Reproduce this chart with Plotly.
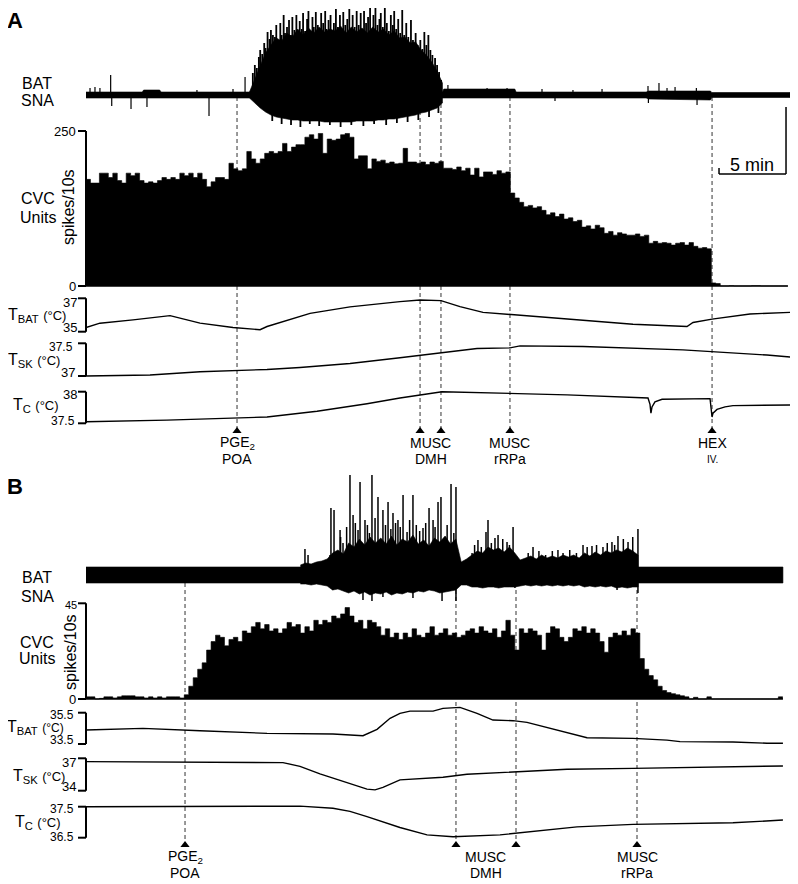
import numpy as np
import plotly.graph_objects as go

W, H = 798, 884            # reference picture size
OFF = 8                    # the html page puts the figure 8 px in from the top-left
FW, FH = W - OFF, H - OFF  # figure size actually drawn
FONT = 'Liberation Sans, Arial, sans-serif'
PX_PER_MIN = 13.4          # the 5 min scale bar is 67 px long
X0, X1 = 86, 790           # pixel span of the time axis
T_MAX = (X1 - X0) / PX_PER_MIN
BIN = 1 / 3                # histogram drawn in 20 s steps (values in spikes/10s)

# ---------------------------------------------------------------- panel A data
A_EVENTS = [11.27, 24.93, 26.49, 31.64, 46.72]
A_EVENT_TEXT = [(11.27, 'PGE<sub>2</sub>', 'POA'), (25.71, 'MUSC', 'DMH'),
                (31.64, 'MUSC', 'rRPa'), (46.72, 'HEX', 'IV.')]

A_SNA_BAND_T = [0, 4.2, 4.3, 5.5, 5.6, 26.6, 26.7, 32.0, 32.1, 41.8, 42.0, 46.6, 46.7, 52.54]
A_SNA_BAND_UP = [3, 3, 5, 5, 3, 3, 6, 6, 3, 3, 4, 4, 2.5, 2.5]
A_SNA_BAND_LO = [3, 3, 3, 3, 3, 3, 3, 3, 3, 3, 4, 5, 2.5, 2.5]
A_SNA_CORE_T0, A_SNA_CORE_DT = 12.2, 0.4
A_SNA_CORE_UP = [3, 16, 30, 42, 50, 57, 54, 62, 58, 66, 60, 67, 62, 68, 63, 66, 64, 69, 62,
                 68, 63, 67, 62, 68, 63, 66, 60, 64, 57, 58, 52, 53, 45, 40, 33, 24, 12]
A_SNA_CORE_LO = [3, 8, 13, 17, 20, 22, 23, 24, 25, 25, 26, 26, 26, 26, 27, 27, 27, 27, 27,
                 27, 26, 26, 26, 26, 25, 25, 24, 24, 23, 22, 21, 20, 18, 17, 15, 13, 8]
A_SNA_BURST_SPIKE_T = [12.45, 12.6, 12.75, 12.9, 13.0, 13.15, 13.3, 13.4, 13.55, 13.7, 13.8, 13.95,
                       14.1, 14.2, 14.35, 14.5, 14.6, 14.75, 14.85, 15.0, 15.15, 15.3, 15.4, 15.55,
                       15.7, 15.8, 15.95, 16.1, 16.2, 16.35, 16.5, 16.6, 16.75, 16.9, 17.0, 17.15,
                       17.3, 17.45, 17.55, 17.7, 17.85, 17.95, 18.1, 18.25, 18.4, 18.5, 18.65, 18.8,
                       18.95, 19.1, 19.2, 19.35, 19.5, 19.65, 19.8, 19.9, 20.05, 20.2, 20.35, 20.5,
                       20.6, 20.75, 20.9, 21.05, 21.2, 21.3, 21.45, 21.6, 21.75, 21.9, 22.0, 22.15,
                       22.3, 22.45, 22.6, 22.75, 22.9, 23.0, 23.15, 23.3, 23.45, 23.6, 23.75, 23.9,
                       24.05, 24.25, 24.4, 24.6, 24.75, 24.95, 25.1, 25.25, 25.4, 25.55, 25.7, 25.85,
                       26.05, 26.2, 26.35, 26.5,
                       13.9, 14.6, 15.3, 16.0, 16.7, 17.4, 18.2, 19.0, 19.8, 20.7, 21.5, 22.4,
                       23.2, 24.0, 24.8, 25.6, 26.3]
A_SNA_BURST_SPIKE_AMP = [22, 30, 27, 38, 45, 41, 52, 47, 63, 56, 65, 60,
                         58, 70, 55, 72, 60, 80, 62, 68, 75, 60, 78, 65,
                         80, 62, 74, 66, 82, 64, 76, 84, 63, 78, 68, 83,
                         70, 62, 82, 72, 84, 66, 75, 80, 64, 72, 86, 68,
                         80, 64, 83, 70, 76, 86, 66, 80, 68, 84, 70, 82,
                         66, 84, 72, 78, 87, 64, 80, 88, 70, 76, 82, 68,
                         89, 72, 64, 80, 70, 84, 66, 76, 62, 85, 60, 72,
                         58, 75, 55, 62, 50, 55, 46, 63, 50, 60, 45, 40,
                         37, 30, 23, 15,
                         -26, -29, -30, -32, -29, -31, -30, -32, -30, -31, -29, -30,
                         -28, -27, -25, -22, -18]
A_SNA_SPIKE_T = [0.30, 0.67, 1.04, 1.84, 1.92, 3.36, 4.55, 4.60, 8.28, 9.18, 10.97, 11.87,
                 27.01, 29.93, 31.42, 34.03, 35.00, 36.34, 38.51, 41.94, 41.97, 42.76,
                 43.36, 43.96, 45.55, 45.60]
A_SNA_SPIKE_AMP = [7, 8, 7, 20, -11, -14, -12, 5, 5, -21, 6, 18,
                   10, 7, 7, 6, -6, 5, 6, 9, -8, 12,
                   7, 8, 7, -10]

A_CVC = [172, 166, 166, 182, 182, 175, 182, 170, 166, 182, 178, 182,
         170, 166, 168, 166, 170, 175, 172, 175, 172, 182, 178, 182, 175, 182,
         172, 160, 168, 175, 175, 172, 198, 189, 186, 189, 217, 205, 198, 205,
         214, 217, 214, 217, 230, 217, 224, 228, 228, 240, 244, 237, 246, 214,
         237, 235, 237, 244, 246, 240, 205, 210, 210, 189, 205, 201, 203, 198, 200, 197,
         198, 222, 200, 200, 198, 200, 196, 200, 198, 201, 190, 190, 188, 192, 186, 190,
         179, 190, 176, 184, 184, 180, 186, 182, 184, 150, 142, 135, 128, 130,
         126, 128, 122, 115, 118, 112, 116, 108, 110, 104, 106, 95, 97, 92, 98, 94,
         85, 88, 82, 86, 84, 82, 82, 84, 80, 82, 69, 72, 69, 70, 69, 66, 69, 70,
         66, 70, 64, 61, 62, 60,
         5, 4, 0, 0, 0.5, 0, 0, 0, 0, 0.5, 0.5, 0, 0, 0, 0, 0, 0]

A_TBAT_T = [0, 1.04, 3.51, 6.04, 6.27, 8.51, 10.97, 12.99, 13.51, 16.72, 19.70, 23.43,
            24.93, 26.49, 27.91, 29.63, 31.64, 35.90, 40.82, 44.85, 45.30, 46.72, 49.55, 52.54]
A_TBAT = [35.25, 35.51, 35.71, 35.94, 35.96, 35.51, 35.25, 35.12, 35.31, 36.10, 36.49, 36.80,
          36.90, 36.86, 36.50, 36.16, 36.04, 35.75, 35.45, 35.31, 35.55, 35.75, 36.06, 36.16]
A_TSK_T = [0, 4.78, 8.51, 10.97, 13.51, 15.97, 19.70, 23.43, 26.42, 29.18, 31.64, 32.39,
           37.09, 40.82, 44.55, 50.82, 52.54]
A_TSK = [37.0, 37.015, 37.066, 37.08, 37.10, 37.13, 37.19, 37.28, 37.35, 37.42, 37.43, 37.46,
         37.45, 37.43, 37.40, 37.32, 37.29]
A_TC_T = [0, 6.04, 13.51, 17.24, 20.97, 23.43, 26.57, 30.90, 35.90, 41.94, 42.09, 42.16,
          42.24, 42.46, 42.99, 46.57, 46.64, 46.72, 46.79, 47.09, 47.69, 48.28, 52.54]
A_TC = [37.525, 37.55, 37.60, 37.69, 37.81, 37.90, 38.0, 37.98, 37.95, 37.90, 37.80, 37.66,
        37.76, 37.84, 37.88, 37.89, 37.78, 37.60, 37.66, 37.72, 37.76, 37.78, 37.79]

# ---------------------------------------------------------------- panel B data
B_EVENTS = [7.39, 27.61, 32.09, 41.12]
B_EVENT_TEXT = [(7.39, 'PGE<sub>2</sub>', 'POA'), (29.85, 'MUSC', 'DMH'), (41.12, 'MUSC', 'rRPa')]

B_SNA_BAND_T = [0, 52.01]
B_SNA_BAND_UP = [8, 8]
B_SNA_BAND_LO = [8, 8]
B_SNA_CORE_T0, B_SNA_CORE_DT = 16.0, 0.4
B_SNA_CORE_UP = [10, 12, 11, 13, 14, 16, 22, 25, 21, 32,
                 28, 36, 30, 38, 32, 37, 31, 39, 30, 36,
                 33, 40, 31, 35, 29, 37, 33, 39, 31, 36,
                 13, 16, 20, 24, 22, 28, 25, 27, 23, 28,
                 22, 15, 17, 19, 16, 20, 17, 19, 17, 20,
                 18, 20, 17, 22, 19, 23, 20, 24, 22, 25,
                 23, 27, 24, 20]
B_SNA_CORE_LO = [9, 9, 10, 9, 10, 11, 15, 14, 16, 18,
                 16, 19, 17, 20, 18, 19, 17, 20, 18, 19,
                 17, 18, 16, 17, 15, 16, 18, 17, 16, 15,
                 10, 10, 12, 12, 13, 12, 12, 13, 12, 12,
                 12, 11, 10, 11, 10, 11, 10, 11, 10, 11,
                 10, 11, 10, 12, 11, 12, 11, 12, 11, 13,
                 12, 13, 12, 12]
B_SNA_SPIKE_T = [16.34, 16.57, 17.84, 18.21, 18.28, 18.51, 18.96, 19.18, 19.70, 19.93,
                 20.45, 20.82, 21.34, 21.57, 21.79, 22.16, 22.54, 22.91, 23.28, 23.66,
                 23.96, 24.40, 25.15, 25.60, 25.90, 26.27, 26.49, 26.79, 27.24, 27.61,
                 28.81, 29.25, 29.85, 30.00, 30.52, 30.75, 31.42, 31.87, 33.36, 35.22,
                 37.09, 37.76, 38.58, 39.25, 39.70, 40.45, 41.19,
                 19.0, 19.45, 20.1, 20.3, 21.0, 21.15, 22.35, 22.75, 23.1, 23.45,
                 24.15, 24.65, 24.9, 25.35, 26.05, 26.95, 27.45, 29.0, 29.5, 30.25,
                 31.1, 31.6, 33.0, 33.8, 34.3, 34.8, 35.6, 36.1, 36.6, 37.4,
                 38.1, 38.9, 39.45, 40.1, 40.8,
                 18.43, 20.67, 21.34, 22.16, 24.40, 26.57, 27.61, 32.01, 39.63, 41.19]
B_SNA_SPIKE_AMP = [26, 20, 13, 20, 67, 65, 45, 32, 100, 60,
                   93, 55, 100, 57, 78, 65, 73, 62, 55, 80,
                   43, 80, 47, 67, 55, 73, 78, 35, 91, 88,
                   22, 35, 43, 55, 37, 40, 33, 48, 28, 25,
                   30, 29, 28, 33, 39, 33, 46,
                   38, 48, 52, 45, 50, 42, 50, 46, 52, 48,
                   55, 50, 44, 52, 48, 50, 42, 30, 28, 32,
                   36, 30, 22, 24, 20, 24, 22, 25, 22, 28,
                   30, 32, 30, 36, 38,
                   -15, -25, -30, -22, -23, -27, -28, -13, -15, -18]

B_CVC = [1, 1, 0, 0.3, 1, 1, 0.5, 1, 1.5, 1.5, 1.5, 1, 1, 0.5, 1, 0.5, 1, 0.5, 1, 1, 1, 0.5,
         2, 6, 10, 14, 17, 23, 27, 30, 29, 25, 28, 29, 27,
         32, 31, 34, 36, 33, 35, 32, 33, 31, 33, 36, 34, 35, 31, 34, 32,
         37, 35, 37, 36, 39, 38, 40, 43, 39, 36, 37, 33, 37, 36, 34, 30, 33, 29, 31, 28,
         31, 29, 33, 30, 29, 31, 34, 30, 31, 33, 30, 31, 29, 30, 32,
         33, 31, 34, 32, 31, 33, 29, 32, 37, 30, 23,
         33, 31, 33, 32, 30, 23, 31, 34, 33, 29, 27, 29,
         33, 32, 34, 31, 33, 31, 27, 22, 29, 31, 30, 32, 30, 33, 31,
         19, 14, 11, 9, 6, 4, 3, 2.5, 2, 1.5, 1,
         0, 0.8, 0, 0, 1, 0, 0, 0, 0, 0, 0, 0, 0, 0, 0, 0, 0, 0, 0, 0, 1]

B_TBAT_T = [0, 4.25, 8.51, 13.51, 18.43, 20.67, 21.72, 22.69, 23.43, 24.18, 25.90, 26.64,
            27.91, 29.18, 30.37, 31.87, 32.91, 34.63, 37.39, 40.82, 43.36, 44.33, 48.28, 50.82, 52.01]
B_TBAT = [34.39, 34.5, 34.35, 34.18, 34.14, 34.03, 34.44, 35.14, 35.46, 35.6, 35.6, 35.78,
          35.84, 35.46, 35.03, 34.99, 34.88, 34.5, 33.9, 33.86, 33.75, 33.65, 33.63, 33.55, 33.55]
B_TSK_T = [0, 8.51, 14.70, 15.97, 17.46, 18.96, 20.07, 20.97, 21.57, 22.16, 23.43, 26.64,
           28.43, 32.16, 35.90, 40.82, 45.82, 52.01]
B_TSK = [36.69, 36.66, 36.6, 36.25, 35.55, 34.95, 34.5, 34.15, 34.08, 34.3, 35.0, 35.24,
         35.52, 35.76, 35.98, 36.07, 36.17, 36.29]
B_TC_T = [0, 13.51, 15.97, 18.43, 19.70, 20.97, 22.16, 23.43, 25.45, 27.39, 30.90, 32.39,
          36.64, 40.82, 48.28, 52.01]
B_TC = [37.5, 37.5, 37.52, 37.45, 37.35, 37.18, 37.0, 36.83, 36.59, 36.53, 36.59, 36.66,
        36.85, 36.93, 36.98, 37.07]


# ---------------------------------------------------------------- helpers
def px_x(px):
    return (px - OFF) / FW


def px_y(py):
    return 1 - (py - OFF) / FH


def y_axis(top_px, bot_px, v_a, p_a, v_b, p_b, anchor):
    # linear axis: value v_a sits at pixel p_a, v_b at p_b
    s = (p_a - p_b) / (v_b - v_a)
    lo = v_a - (bot_px - p_a) / s
    hi = v_b + (p_b - top_px) / s
    return dict(domain=[px_y(bot_px), px_y(top_px)], range=[lo, hi],
                visible=False, anchor=anchor, fixedrange=True)


def envelope(t, up, lo, xa, ya):
    t = list(t)
    xs = t + t[::-1]
    ys = list(up) + [-v for v in lo[::-1]]
    return go.Scatter(x=xs, y=ys, mode='lines', fill='toself', fillcolor='black',
                      line=dict(color='black', width=0.6), xaxis=xa, yaxis=ya, hoverinfo='skip')


def spikes(ts, amps, xa, ya, width=1):
    xs, ys = [], []
    for t, a in zip(ts, amps):
        xs += [t, t, None]
        ys += [0, a, None]
    return go.Scatter(x=xs, y=ys, mode='lines', line=dict(color='black', width=width),
                      xaxis=xa, yaxis=ya, hoverinfo='skip')


def hist(vals, xa, ya):
    edges = np.arange(len(vals) + 1) * BIN
    return go.Scatter(x=edges, y=list(vals) + [vals[-1]], mode='lines',
                      line=dict(shape='hv', color='black', width=0.6),
                      fill='tozeroy', fillcolor='black', xaxis=xa, yaxis=ya, hoverinfo='skip')


def temp(t, v, xa, ya):
    return go.Scatter(x=t, y=v, mode='lines', line=dict(color='black', width=1.4),
                      xaxis=xa, yaxis=ya, hoverinfo='skip')


def bracket(yref, lo, hi):
    xa, xb = px_x(X0), px_x(X0 - 8)
    ln = dict(color='black', width=2)
    return [dict(type='line', xref='paper', yref=yref, x0=xa, x1=xa, y0=lo, y1=hi, line=ln),
            dict(type='line', xref='paper', yref=yref, x0=xb, x1=xa, y0=lo, y1=lo, line=ln),
            dict(type='line', xref='paper', yref=yref, x0=xb, x1=xa, y0=hi, y1=hi, line=ln)]


def text(x, y, s, size=16, xanchor='center', angle=0):
    return dict(xref='paper', yref='paper', x=px_x(x), y=px_y(y), text=s, showarrow=False,
                xanchor=xanchor, yanchor='middle', textangle=angle, borderpad=0,
                font=dict(family=FONT, size=size, color='black'))


def tick_label(yref, val, right_px, shift, s, size=13):
    return dict(xref='paper', yref=yref, x=px_x(right_px), y=val, yshift=shift, text=s,
                showarrow=False, xanchor='right', yanchor='middle', borderpad=0,
                font=dict(family=FONT, size=size, color='black'))


def event_text(xref, t, y, s, size):
    return dict(xref=xref, yref='paper', x=t, y=px_y(y), text=s, showarrow=False,
                xanchor='center', yanchor='middle', borderpad=0,
                font=dict(family=FONT, size=size, color='black'))


def tname(sub, deg=13):
    return f"T<sub>{sub}</sub> <span style='font-size:{deg}px'>(°C)</span>"


# ---------------------------------------------------------------- figure
fig = go.Figure()

# panel A
core_t = A_SNA_CORE_T0 + A_SNA_CORE_DT * np.arange(len(A_SNA_CORE_UP))
fig.add_trace(envelope(A_SNA_BAND_T, A_SNA_BAND_UP, A_SNA_BAND_LO, 'x', 'y'))
fig.add_trace(envelope(core_t, A_SNA_CORE_UP, A_SNA_CORE_LO, 'x', 'y'))
fig.add_trace(spikes(A_SNA_BURST_SPIKE_T, A_SNA_BURST_SPIKE_AMP, 'x', 'y', 1.8))
fig.add_trace(spikes(A_SNA_SPIKE_T, A_SNA_SPIKE_AMP, 'x', 'y', 1.2))
fig.add_trace(hist(A_CVC, 'x', 'y2'))
fig.add_trace(temp(A_TBAT_T, A_TBAT, 'x', 'y3'))
fig.add_trace(temp(A_TSK_T, A_TSK, 'x', 'y4'))
fig.add_trace(temp(A_TC_T, A_TC, 'x', 'y5'))
fig.add_trace(go.Scatter(x=A_EVENTS, y=[1] * len(A_EVENTS), mode='markers', cliponaxis=False,
                         marker=dict(symbol='triangle-up', size=8, color='black'),
                         xaxis='x', yaxis='y6', hoverinfo='skip'))

# panel B
core_t = B_SNA_CORE_T0 + B_SNA_CORE_DT * np.arange(len(B_SNA_CORE_UP))
fig.add_trace(envelope(B_SNA_BAND_T, B_SNA_BAND_UP, B_SNA_BAND_LO, 'x2', 'y7'))
fig.add_trace(envelope(core_t, B_SNA_CORE_UP, B_SNA_CORE_LO, 'x2', 'y7'))
fig.add_trace(spikes(B_SNA_SPIKE_T, B_SNA_SPIKE_AMP, 'x2', 'y7', 1.5))
fig.add_trace(hist(B_CVC, 'x2', 'y8'))
fig.add_trace(temp(B_TBAT_T, B_TBAT, 'x2', 'y9'))
fig.add_trace(temp(B_TSK_T, B_TSK, 'x2', 'y10'))
fig.add_trace(temp(B_TC_T, B_TC, 'x2', 'y11'))
fig.add_trace(go.Scatter(x=B_EVENTS, y=[1] * len(B_EVENTS), mode='markers', cliponaxis=False,
                         marker=dict(symbol='triangle-up', size=8, color='black'),
                         xaxis='x2', yaxis='y12', hoverinfo='skip'))

axes = dict(
    xaxis=dict(domain=[px_x(X0), px_x(X1)], range=[0, T_MAX], visible=False, anchor='y', fixedrange=True),
    xaxis2=dict(domain=[px_x(X0), px_x(X1)], range=[0, T_MAX], visible=False, anchor='y7', fixedrange=True),
    yaxis=y_axis(OFF, 129, 0, 95, 95, 0, 'x'),
    yaxis2=y_axis(129, 290, 0, 286, 250, 131, 'x'),
    yaxis3=y_axis(292, 337, 35, 331.7, 37, 298.3, 'x'),
    yaxis4=y_axis(339, 381, 37, 376, 37.5, 343.3, 'x'),
    yaxis5=y_axis(385, 428, 37.5, 423.3, 38, 391.7, 'x'),
    yaxis6=y_axis(431, 471, 0, 471, 1, 431, 'x'),
    yaxis7=y_axis(465, 601, 0, 575, 100, 475, 'x2'),
    yaxis8=y_axis(601, 702, 0, 699, 45, 603.3, 'x2'),
    yaxis9=y_axis(704, 749, 33.5, 744, 35.5, 712.7, 'x2'),
    yaxis10=y_axis(752, 796, 34, 790.7, 37, 758.3, 'x2'),
    yaxis11=y_axis(800, 842, 36.5, 837.7, 37.5, 806.7, 'x2'),
    yaxis12=y_axis(845, 884, 0, 884, 1, 845, 'x2'),
)

shapes = []
dash = dict(color='#333333', width=1, dash='4px,3px')
for t in A_EVENTS:
    shapes.append(dict(type='line', xref='x', yref='paper', x0=t, x1=t,
                       y0=px_y(97), y1=px_y(428), line=dash, layer='below'))
for t in B_EVENTS:
    shapes.append(dict(type='line', xref='x2', yref='paper', x0=t, x1=t,
                       y0=px_y(583), y1=px_y(842), line=dash, layer='below'))

# zero lines under the histograms
shapes.append(dict(type='line', xref='x', yref='y2', x0=0, x1=52.39, y0=0, y1=0,
                   line=dict(color='black', width=1.5)))
shapes.append(dict(type='line', xref='x2', yref='y8', x0=0, x1=52.01, y0=0, y1=0,
                   line=dict(color='black', width=1.5)))

# axis brackets
shapes += bracket('y2', 0, 250) + bracket('y3', 35, 37) + bracket('y4', 37, 37.5) + bracket('y5', 37.5, 38)
shapes += bracket('y8', 0, 45) + bracket('y9', 33.5, 35.5) + bracket('y10', 34, 37) + bracket('y11', 36.5, 37.5)

# scale bar (5 min) in panel A
sb = dict(color='black', width=1.5)
shapes.append(dict(type='line', xref='x', yref='paper', x0=52.24, x1=52.24, y0=px_y(107), y1=px_y(174), line=sb))
shapes.append(dict(type='line', xref='x', yref='paper', x0=47.24, x1=52.24, y0=px_y(174), y1=px_y(174), line=sb))
shapes.append(dict(type='line', xref='x', yref='paper', x0=47.24, x1=47.24, y0=px_y(168), y1=px_y(174), line=sb))

ann = [
    text(15, 20, '<b>A</b>', 22), text(15, 486, '<b>B</b>', 22),
    text(37, 83, 'BAT'), text(37, 100, 'SNA'),
    text(38, 199, 'CVC'), text(38, 217, 'Units'),
    text(68, 207, 'spikes/10s', angle=-90),
    text(7, 316, tname('BAT'), xanchor='left'),
    text(7, 360, tname('SK'), xanchor='left'),
    text(12, 405, tname('C'), xanchor='left'),
    text(752, 165, '5 min', 18),
    text(37, 577, 'BAT'), text(37, 596, 'SNA'),
    text(37, 642, 'CVC'), text(37, 658, 'Units'),
    text(70, 652, 'spikes/10s', angle=-90),
    text(6, 727, tname('BAT', 12), xanchor='left'),
    text(12, 776, tname('SK'), xanchor='left'),
    text(14, 822, tname('C'), xanchor='left'),
    tick_label('y2', 250, 77, 0, '250'), tick_label('y2', 0, 77, 0, '0'),
    tick_label('y3', 37, 78, -4, '37'), tick_label('y3', 35, 78, 4, '35'),
    tick_label('y4', 37.5, 74, -4, '37.5', 12), tick_label('y4', 37, 76, 4, '37'),
    tick_label('y5', 38, 78, -3, '38'), tick_label('y5', 37.5, 76, 2, '37.5', 12),
    tick_label('y8', 45, 78, -2, '45', 11), tick_label('y8', 0, 77, 0, '0'),
    tick_label('y9', 35.5, 75, -2, '35.5', 12), tick_label('y9', 33.5, 75, 4, '33.5', 12),
    tick_label('y10', 37, 77, -4, '37'), tick_label('y10', 34, 77, 4, '34'),
    tick_label('y11', 37.5, 75, -2, '37.5', 12), tick_label('y11', 36.5, 75, 1, '36.5', 12),
]

for t, l1, l2 in A_EVENT_TEXT:
    ann.append(event_text('x', t, 443, l1, 14))
    ann.append(event_text('x', t, 459, l2, 10 if l2 == 'IV.' else 14))
for t, l1, l2 in B_EVENT_TEXT:
    ann.append(event_text('x2', t, 857, l1, 14))
    ann.append(event_text('x2', t, 873, l2, 14))

fig.update_layout(
    width=FW, height=FH,
    margin=dict(l=0, r=0, t=0, b=0),
    paper_bgcolor='white',
    plot_bgcolor='rgba(0,0,0,0)',
    showlegend=False,
    shapes=shapes,
    annotations=ann,
    **axes,
)

fig.write_html('out.html')
